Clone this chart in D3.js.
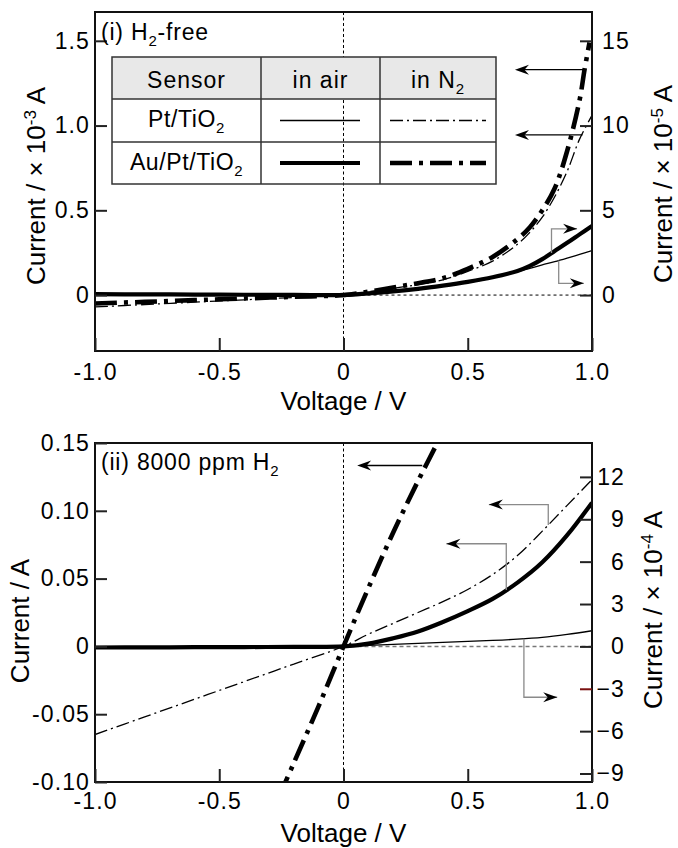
<!DOCTYPE html>
<html><head><meta charset="utf-8">
<script src="https://cdn.jsdelivr.net/npm/d3@7"></script>
<style>
body{margin:0;background:#fff;}
svg text{font-family:"Liberation Sans",Arial,Helvetica,sans-serif;fill:#000;}
</style></head><body>
<svg id="c" width="678" height="848"></svg>
<script>
// ---------------- DATA ----------------
// Panel (i) H2-free : left axis x10^-3 A, right axis x10^-5 A
const voltTop      = [-1.0,-0.8,-0.6,-0.4,-0.2,0,0.1,0.2,0.3,0.4,0.5,0.6,0.7,0.75,0.8,0.85,0.9,0.95,1.0];
const topPtN2      = [-0.07,-0.056,-0.042,-0.028,-0.014,0,0.02,0.04,0.062,0.09,0.14,0.20,0.30,0.37,0.46,0.58,0.73,0.92,1.06];
const topAuAir     = [0.05,0.04,0.03,0.02,0.01,0,0.1,0.22,0.37,0.56,0.78,1.05,1.42,1.72,2.12,2.6,3.08,3.58,4.08];
const topPtAir     = [0.05,0.04,0.03,0.02,0.01,0,0.1,0.2,0.34,0.52,0.74,1.02,1.38,1.58,1.78,1.97,2.18,2.4,2.62];
const voltTopAuN2  = [-1.0,-0.8,-0.6,-0.4,-0.2,0,0.1,0.2,0.3,0.4,0.5,0.6,0.7,0.75,0.8,0.85,0.9,0.95,0.97,0.99];
const topAuN2      = [-0.05,-0.04,-0.03,-0.02,-0.01,0,0.02,0.045,0.07,0.10,0.155,0.225,0.33,0.40,0.50,0.63,0.85,1.15,1.33,1.49];

// Panel (ii) 8000 ppm H2 : left axis A, right axis x10^-4 A
const voltBot      = [-1.0,-0.8,-0.6,-0.4,-0.2,0,0.1,0.2,0.3,0.4,0.5,0.6,0.7,0.8,0.9,1.0];
const botPtN2      = [-0.065,-0.052,-0.039,-0.026,-0.013,0,0.009,0.017,0.025,0.033,0.042,0.053,0.067,0.085,0.104,0.123];
const botAuAir     = [-0.0008,-0.0007,-0.0006,-0.0005,-0.0003,0,0.002,0.006,0.011,0.018,0.026,0.035,0.047,0.062,0.082,0.106];
const botPtAir     = [-0.12,-0.1,-0.08,-0.06,-0.03,0,0.07,0.14,0.21,0.28,0.35,0.42,0.51,0.64,0.85,1.11];
const voltBotAuN2  = [-0.26,-0.2,-0.1,0,0.1,0.2,0.3,0.4];
const botAuN2      = [-0.111,-0.086,-0.044,0,0.043,0.084,0.122,0.158];

// Ticks
const xTicks = [-1.0,-0.5,0,0.5,1.0];
const xTickLabels = ["-1.0","-0.5","0","0.5","1.0"];
const topLeftTicks = [0,0.5,1.0,1.5];
const topLeftLabels = ["0","0.5","1.0","1.5"];
const topRightTicks = [0,5,10,15];
const botLeftTicks = [-0.10,-0.05,0,0.05,0.10,0.15];
const botLeftLabels = ["-0.10","-0.05","0","0.05","0.10","0.15"];
const botRightTicks = [-9,-6,-3,0,3,6,9,12];

// Legend
const legendHeader = ["Sensor","in air","in N2"];
const sensors = ["Pt/TiO2","Au/Pt/TiO2"];

// ---------------- STYLES ----------------
const ST = {
  thin:   {w:1.3, dash:null},
  thinDD: {w:1.3, dash:"13,4,2,4"},
  thick:  {w:4.2, dash:null},
  thickDD:{w:4.6, dash:"22,7,4,7"}
};
const svg = d3.select('#c');
const XL=95, XR=592;
const x = d3.scaleLinear([-1,1],[XL,XR]);

function interp(vs, ys, v){
  for(let i=0;i<vs.length-1;i++){
    if(v>=vs[i] && v<=vs[i+1]){ const t=(v-vs[i])/(vs[i+1]-vs[i]); return ys[i]+t*(ys[i+1]-ys[i]); }
  }
  return ys[ys.length-1];
}
function rich(sel, parts, subSize){
  let shift=0;
  parts.forEach(p=>{
    const t=sel.append('tspan').text(p.t);
    let target = p.sub? 6 : p.sup? -9 : 0;
    if(target!==shift){ t.attr('dy', target-shift); shift=target; }
    if(p.sub||p.sup) t.style('font-size', subSize+'px');
  });
}
function parse(s){
  const m = s.match(/^(.*?)(\d)$/);
  return m? [{t:m[1]},{t:m[2],sub:true}] : [{t:s}];
}
function styleLine(p, st){
  p.attr('fill','none').attr('stroke','#000').attr('stroke-width',st.w).attr('stroke-linejoin','round');
  if(st.dash) p.attr('stroke-dasharray',st.dash);
  return p;
}
function head(g, xt, yt, ang){
  const L=14, Wd=5, N=9.5;
  g.append('path').attr('d',`M0,0L${-L},${-Wd}L${-N},0L${-L},${Wd}Z`)
   .attr('transform',`translate(${xt},${yt}) rotate(${ang})`).attr('fill','#000');
}
function arrowLeft(g, y, a){
  const yy=y(a.c);
  g.append('line').attr('x1',x(a.v0)).attr('x2',x(a.v1)+4).attr('y1',yy).attr('y2',yy).attr('stroke','#000').attr('stroke-width',1.3);
  head(g, x(a.v1), yy, 180);
}
function bracket(g, y, b, vs, ys, dir){
  const yf=y(interp(vs,ys,b.v)), yt=y(b.turn);
  g.append('path').attr('d',`M${x(b.v)},${yf}V${yt}H${x(b.tip)}`).attr('fill','none').attr('stroke','#8a8a8a').attr('stroke-width',1.3);
  head(g, x(b.tip), yt, dir>0?0:180);
}

function panel(o){
  const g = svg.append('g');
  const yL = d3.scaleLinear(o.leftDom,[o.y1,o.y0]);
  const yR = d3.scaleLinear(o.rightDom,[o.y1,o.y0]);
  const cid='clip'+o.id;
  g.append('clipPath').attr('id',cid).append('rect').attr('x',XL).attr('y',o.y0).attr('width',XR-XL).attr('height',o.y1-o.y0);
  const plot = g.append('g').attr('clip-path',`url(#${cid})`);
  plot.append('line').attr('x1',x(0)).attr('x2',x(0)).attr('y1',o.y0).attr('y2',o.y1).attr('stroke','#000').attr('stroke-width',1).attr('stroke-dasharray','3,2.5');
  const zy = o.zeroRight? yR(0): yL(0);
  plot.append('line').attr('x1',x(0)).attr('x2',XR).attr('y1',zy).attr('y2',zy).attr('stroke',o.zeroColor).attr('stroke-width',o.zeroW).attr('stroke-dasharray',o.zeroDash);
  o.series.forEach(s=>{
    const yy = s.axis==='R'? yR: yL;
    const line = d3.line().x((d,i)=>x(s.v[i])).y(d=>yy(d)).curve(d3.curveCatmullRom.alpha(0.5));
    styleLine(plot.append('path').attr('d',line(s.y)), s.st);
  });
  g.append('rect').attr('x',XL).attr('y',o.y0).attr('width',XR-XL).attr('height',o.y1-o.y0).attr('fill','none').attr('stroke','#111').attr('stroke-width',2);
  const fmtTick = sel=>{ sel.select('.domain').remove(); sel.selectAll('line').attr('stroke','#222').attr('stroke-width',2);
    sel.selectAll('text').style('font-size','23px').style('letter-spacing','1.1px').style('fill','#000'); sel.attr('font-family',null).attr('font-size',null); };
  g.append('g').attr('transform',`translate(0,${o.y1})`).call(d3.axisBottom(x).tickValues(xTicks).tickFormat((d,i)=>xTickLabels[i]).tickSize(-13).tickPadding(o.xPad)).call(fmtTick);
  g.append('g').attr('transform',`translate(${XL},0)`).call(d3.axisLeft(yL).tickValues(o.lt).tickFormat((d,i)=>o.ll[i]).tickSize(-12).tickPadding(5)).call(fmtTick);
  const ra = g.append('g').attr('transform',`translate(${XR},0)`).call(d3.axisRight(yR).tickValues(o.rt).tickFormat(d3.format('d')).tickSize(-12).tickPadding(10)).call(fmtTick);
  if(o.rightEnd){ ra.selectAll('text').attr('text-anchor','end').attr('x',o.rightEnd); }
  if(o.redTick!==undefined){ ra.selectAll('.tick').filter(d=>d===o.redTick).select('line').attr('stroke','#7a1010'); }
  const ann = g.append('g');
  o.arrows.forEach(a=>arrowLeft(ann,yL,a));
  o.brackets.forEach(b=>bracket(ann, b.axis==='R'?yR:yL, b, b.vs, b.ys, b.dir));
  const tl = g.append('text').attr('x',101).attr('y',o.titleY).style('font-size','23px').style('letter-spacing','0.8px');
  rich(tl, o.title, 15);
  g.append('text').attr('x',(XL+XR)/2).attr('y',o.xlabY).attr('text-anchor','middle').style('font-size','26px').text('Voltage / V');
  const ll = g.append('text').attr('transform',`translate(${o.llX},${o.llY}) rotate(-90)`).attr('text-anchor','middle').style('font-size','26px');
  rich(ll, o.leftLab, 17);
  const rl = g.append('text').attr('transform',`translate(${o.rlX},${o.rlY}) rotate(-90)`).attr('text-anchor','middle').style('font-size','26px');
  rich(rl, o.rightLab, 17);
  return g;
}

// ---------- Panel (i) ----------
const gTop = panel({
  id:1, y0:12, y1:351, leftDom:[-0.33,1.67], rightDom:[-3.3,16.7],
  lt:topLeftTicks, ll:topLeftLabels, rt:topRightTicks, xPad:13,
  zeroRight:true, zeroColor:'#000', zeroW:1, zeroDash:'3,3',
  series:[
    {v:voltTop, y:topPtAir, axis:'R', st:ST.thin},
    {v:voltTop, y:topAuAir, axis:'R', st:ST.thick},
    {v:voltTop, y:topPtN2, axis:'L', st:ST.thinDD},
    {v:voltTopAuN2, y:topAuN2, axis:'L', st:ST.thickDD}
  ],
  arrows:[{v0:0.965,c:1.33,v1:0.69},{v0:0.962,c:0.945,v1:0.69}],
  brackets:[
    {axis:'R', v:0.837, turn:3.91, tip:0.94, vs:voltTop, ys:topAuAir, dir:1},
    {axis:'R', v:0.866, turn:0.69, tip:0.967, vs:voltTop, ys:topPtAir, dir:1}
  ],
  title:[{t:'(i) H'},{t:'2',sub:true},{t:'-free'}], titleY:39.5, xlabY:410,
  leftLab:[{t:'Current / × 10'},{t:'-3',sup:true},{t:' A'}], llX:45, llY:186,
  rightLab:[{t:'Current / × 10'},{t:'-5',sup:true},{t:' A'}], rlX:672, rlY:184
});

// legend table
(function(){
  const g = gTop.append('g');
  const L=112, R=496, T=57, B=184;
  const cols=[L,261,380,R], rows=[T,99,142,B];
  g.append('rect').attr('x',L).attr('y',T).attr('width',R-L).attr('height',rows[1]-T).attr('fill','#e8e8e8');
  g.append('rect').attr('x',L).attr('y',T).attr('width',R-L).attr('height',B-T).attr('fill','none').attr('stroke','#333').attr('stroke-width',1.5);
  [1,2].forEach(i=>g.append('line').attr('x1',L).attr('x2',R).attr('y1',rows[i]).attr('y2',rows[i]).attr('stroke','#333').attr('stroke-width',1.5));
  [1,2].forEach(i=>g.append('line').attr('x1',cols[i]).attr('x2',cols[i]).attr('y1',T).attr('y2',B).attr('stroke','#333').attr('stroke-width',1.5));
  const cx = i=>(cols[i]+cols[i+1])/2;
  legendHeader.forEach((h,i)=>{
    const t=g.append('text').attr('x',cx(i)).attr('y',88).attr('text-anchor','middle').style('font-size','23px').style('letter-spacing','1px');
    rich(t, h==='in N2'?[{t:'in N'},{t:'2',sub:true}]:[{t:h}], 15);
  });
  const styles=[[ST.thin,ST.thinDD],[ST.thick,ST.thickDD]];
  sensors.forEach((s,r)=>{
    const ty = rows[r+1]+28, ly=(rows[r+1]+rows[r+2])/2;
    const t=g.append('text').attr('x',cx(0)).attr('y',ty).attr('text-anchor','middle').style('font-size','23px').style('letter-spacing','0.6px');
    rich(t, parse(s), 15);
    styleLine(g.append('line').attr('x1',280).attr('x2',360).attr('y1',ly).attr('y2',ly), styles[r][0]);
    styleLine(g.append('line').attr('x1',390).attr('x2',486).attr('y1',ly).attr('y2',ly), styles[r][1]);
  });
})();

// ---------- Panel (ii) ----------
panel({
  id:2, y0:443, y1:782, leftDom:[-0.10,0.15], rightDom:[-9.6,14.4],
  lt:botLeftTicks, ll:botLeftLabels, rt:botRightTicks, rightEnd:33, redTick:-3, xPad:11,
  zeroRight:false, zeroColor:'#777', zeroW:1.5, zeroDash:'4,3',
  series:[
    {v:voltBot, y:botPtAir, axis:'R', st:ST.thin},
    {v:voltBot, y:botAuAir, axis:'L', st:ST.thick},
    {v:voltBot, y:botPtN2, axis:'L', st:ST.thinDD},
    {v:voltBotAuN2, y:botAuN2, axis:'L', st:ST.thickDD}
  ],
  arrows:[{v0:0.317,c:0.1334,v1:0.055}],
  brackets:[
    {axis:'L', v:0.824, turn:0.1046, tip:0.585, vs:voltBot, ys:botPtN2, dir:-1},
    {axis:'L', v:0.655, turn:0.0757, tip:0.414, vs:voltBot, ys:botAuAir, dir:-1},
    {axis:'R', v:0.726, turn:-3.6, tip:0.86, vs:voltBot, ys:botPtAir, dir:1}
  ],
  title:[{t:'(ii) 8000 ppm H'},{t:'2',sub:true}], titleY:470, xlabY:842,
  leftLab:[{t:'Current / A'}], llX:29, llY:621,
  rightLab:[{t:'Current / × 10'},{t:'-4',sup:true},{t:' A'}], rlX:662, rlY:610
});
</script>
</body></html>
